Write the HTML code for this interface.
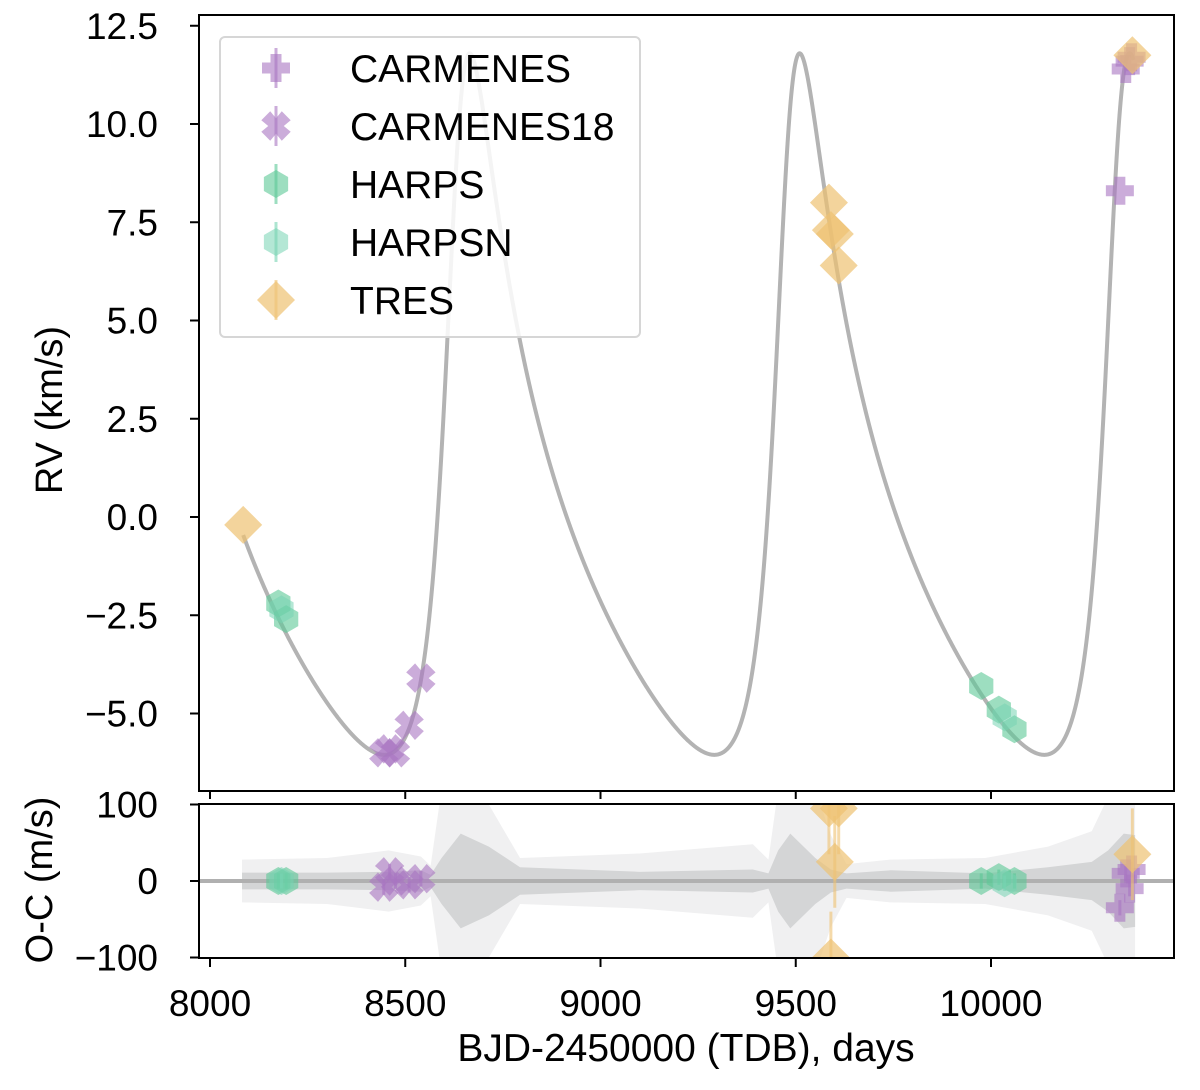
<!DOCTYPE html>
<html><head><meta charset="utf-8">
<style>
html,body{margin:0;padding:0;background:#fff;}
svg{display:block;font-family:"Liberation Sans",Arial,sans-serif;}
</style></head>
<body>
<svg id="chart" width="1200" height="1090" viewBox="0 0 1200 1090" xmlns="http://www.w3.org/2000/svg">
<defs>
<clipPath id="clipMain"><rect x="199" y="15" width="975" height="776"/></clipPath>
<clipPath id="clipRes"><rect x="199" y="804" width="975" height="154"/></clipPath>
</defs>
<g id="mainPanel"></g>
<g id="resPanel"></g>
</svg>
<script>
// ---- data ----
const orbitPeriod = [845];
const orbitEcc = [0.50];
const orbitOmegaDeg = [-47];
const orbitK = [8.925];
const orbitGamma = [-0.17];
const orbitPeakDate = [9510];
const modelRange = [8085, 10365];

const xTicks = [8000, 8500, 9000, 9500, 10000];
const xTickLabels = ["8000", "8500", "9000", "9500", "10000"];
const yTicks = [12.5, 10.0, 7.5, 5.0, 2.5, 0.0, -2.5, -5.0];
const yTickLabels = ["12.5", "10.0", "7.5", "5.0", "2.5", "0.0", "\u22122.5", "\u22125.0"];
const resTicks = [100, 0, -100];
const resTickLabels = ["100", "0", "\u2212100"];

const carmDates = [10330, 10345, 10355, 10360];
const carmRV = [8.3, 11.4, 11.6, 11.7];
const carmRes = [-35, 10, -10, 15];
const carm18Dates = [8445, 8460, 8475, 8510, 8540];
const carm18RV = [-6.0, -5.9, -6.0, -5.3, -4.1];
const carm18Res = [-8, 12, 0, -5, 3];
const harpsDates = [8175, 8195, 9975, 10020, 10060];
const harpsRV = [-2.2, -2.6, -4.3, -4.9, -5.4];
const harpsRes = [0, 0, 0, 5, 0];
const harpsnDates = [8183, 10035];
const harpsnRV = [-2.35, -5.1];
const harpsnRes = [0, -3];
const tresDates = [8085, 9585, 9590, 9600, 9610, 10362];
const tresRV = [-0.2, 8.0, 7.3, 7.2, 6.4, 11.75];
const tresRes = [-200, 95, -100, 25, 95, 35];

const bandDates = [8082, 8300, 8457, 8540, 8565, 8593, 8642, 8714, 8794, 9100, 9390, 9430, 9455, 9486, 9550, 9590, 9630, 9743, 9985, 10146, 10258, 10300, 10340, 10369];
const bandOuter = [28, 30, 40, 32, 20, 120, 140, 100, 30, 36, 48, 28, 120, 140, 120, 60, 22, 28, 30, 45, 65, 110, 140, 140];
const bandInner = [11, 11, 12, 14, 8, 30, 62, 45, 18, 12, 15, 10, 40, 62, 30, 15, 10, 14, 10, 18, 25, 40, 62, 60];

// ---- axes ----
const X0 = 210, XPX = 0.3905;
const xs = d => X0 + (d - 8000) * XPX;
const ys = v => 517 - 39.3 * v;
const yr = r => 881 - 0.765 * r;
const NS = "http://www.w3.org/2000/svg";
function mk(tag, parent, attrs) {
  const e = document.createElementNS(NS, tag);
  for (const k in attrs) e.setAttribute(k, attrs[k]);
  parent.appendChild(e);
  return e;
}
const main = document.getElementById('mainPanel');
const res = document.getElementById('resPanel');

function keplerRV(t) {
  const P = orbitPeriod[0], e = orbitEcc[0], w = orbitOmegaDeg[0] * Math.PI / 180;
  const nuP = -w;
  const Ep = 2 * Math.atan(Math.sqrt((1 - e) / (1 + e)) * Math.tan(nuP / 2));
  const Mp = Ep - e * Math.sin(Ep);
  const Tp = orbitPeakDate[0] - Mp / (2 * Math.PI) * P;
  let M = 2 * Math.PI * (t - Tp) / P;
  M = ((M % (2 * Math.PI)) + 3 * Math.PI) % (2 * Math.PI) - Math.PI;
  let E = M;
  for (let i = 0; i < 60; i++) E = E - (E - e * Math.sin(E) - M) / (1 - e * Math.cos(E));
  const nu = 2 * Math.atan2(Math.sqrt(1 + e) * Math.sin(E / 2), Math.sqrt(1 - e) * Math.cos(E / 2));
  return orbitK[0] * (Math.cos(nu + w) + e * Math.cos(w)) + orbitGamma[0];
}

// ---- main panel ----
const frame = mk('rect', main, {x:199, y:15, width:975, height:776, fill:'none', stroke:'#000', 'stroke-width':2});


xTicks.forEach((t, i) => {
  const l = mk('line', main, {x1:xs(t), x2:xs(t), y1:791, y2:799, stroke:'#000', 'stroke-width':2});
  
  
});
yTicks.forEach((t, i) => {
  const l = mk('line', main, {x1:190, x2:199, y1:ys(t), y2:ys(t), stroke:'#000', 'stroke-width':2});
  
  
  const tx = mk('text', main, {x:158, y:ys(t) + 13, 'text-anchor':'end', 'font-size':37});
  tx.textContent = yTickLabels[i];
  
  
});
const yl = mk('text', main, {x:62, y:410, 'text-anchor':'middle', 'font-size':38, transform:'rotate(-90 62 410)'});
yl.textContent = 'RV (km/s)';



const mg = mk('g', main, {'clip-path':'url(#clipMain)'});
let dStr = '';
for (let t = modelRange[0]; t <= modelRange[1]; t += 1) {
  dStr += (dStr ? 'L' : 'M') + xs(t).toFixed(2) + ',' + ys(keplerRV(t)).toFixed(2);
}
const curve = mk('path', mg, {d:dStr, fill:'none', stroke:'#b3b3b3', 'stroke-width':4});



function markerPath(type, cx, cy) {
  if (type === 'plus') {
    const a = 14, b = 5.5;
    return `M${cx-b},${cy-a}H${cx+b}V${cy-b}H${cx+a}V${cy+b}H${cx+b}V${cy+a}H${cx-b}V${cy+b}H${cx-a}V${cy-b}H${cx-b}Z`;
  }
  if (type === 'x') {
    const s = 14, b = 5.5;
    const base = [[-b,-s],[0,-s+b*1.2],[b,-s],[s,-b],[s-b*1.2,0],[s,b],[b,s],[0,s-b*1.2],[-b,s],[-s,b],[-s+b*1.2,0],[-s,-b]];
    return 'M' + base.map(p => (cx+p[0]*1.05) + ',' + (cy+p[1]*1.05)).join('L') + 'Z';
  }
  if (type === 'hex') {
    const r = 14; let p = '';
    for (let i = 0; i < 6; i++) { const a = Math.PI / 3 * i + Math.PI / 6; p += (i ? 'L' : 'M') + (cx + r * Math.cos(a)) + ',' + (cy + r * Math.sin(a)); }
    return p + 'Z';
  }
  const r = 19;
  return `M${cx},${cy-r}L${cx+r},${cy}L${cx},${cy+r}L${cx-r},${cy}Z`;
}
const series = [
  {name:'CARMENES', type:'plus', color:'#a975c2', dates:carmDates, rv:carmRV, res:carmRes, op:0.6},
  {name:'CARMENES18', type:'x', color:'#a975c2', dates:carm18Dates, rv:carm18RV, res:carm18Res, op:0.6},
  {name:'HARPS', type:'hex', color:'#5cc896', dates:harpsDates, rv:harpsRV, res:harpsRes, op:0.6},
  {name:'HARPSN', type:'hex', color:'#77d3b2', dates:harpsnDates, rv:harpsnRV, res:harpsnRes, op:0.55},
  {name:'TRES', type:'dia', color:'#eec272', dates:tresDates, rv:tresRV, res:tresRes, op:0.7}
];
series.forEach(s => {
  s.dates.forEach((d, i) => {
    const cx = xs(d), cy = ys(s.rv[i]);
    const m = mk('path', mg, {d:markerPath(s.type, cx, cy), fill:s.color, 'fill-opacity':s.op});
    
    
  });
});

const lg = mk('g', main, {});


mk('rect', lg, {x:220, y:37, width:420, height:300, rx:5, fill:'#fff', 'fill-opacity':0.85, stroke:'#d6d6d6', 'stroke-width':2});
series.forEach((s, i) => {
  const cy = 68 + i * 58;
  const g = mk('g', lg, {});
  
  
  mk('line', g, {x1:276, x2:276, y1:cy-20, y2:cy+20, stroke:s.color, 'stroke-opacity':0.6, 'stroke-width':3});
  mk('path', g, {d:markerPath(s.type, 276, cy), fill:s.color, 'fill-opacity':s.op});
  const t = mk('text', g, {x:350, y:cy + 14, 'font-size':39});
  t.textContent = s.name;
});

// ---- residual panel ----
const rg = mk('g', res, {'clip-path':'url(#clipRes)'});
function bandPath(arr) {
  let top = '', bot = '';
  bandDates.forEach((d, i) => { top += (i ? 'L' : 'M') + xs(d) + ',' + yr(arr[i]); });
  for (let i = bandDates.length - 1; i >= 0; i--) bot += 'L' + xs(bandDates[i]) + ',' + yr(-arr[i]);
  return top + bot + 'Z';
}
const bo = mk('path', rg, {d:bandPath(bandOuter), fill:'#f0f0f1'});


const bi = mk('path', rg, {d:bandPath(bandInner), fill:'#d4d5d6'});


const zl = mk('line', rg, {x1:199, x2:1174, y1:yr(0), y2:yr(0), stroke:'#b0b0b0', 'stroke-width':4});


series.forEach(s => {
  s.dates.forEach((d, i) => {
    const cx = xs(d), cy = yr(s.res[i]);
    const err = s.type === 'dia' ? 60 : 10;
    mk('line', rg, {x1:cx, x2:cx, y1:yr(s.res[i] + err), y2:yr(s.res[i] - err), stroke:s.color, 'stroke-opacity':0.6, 'stroke-width':3});
    const m = mk('path', rg, {d:markerPath(s.type, cx, cy), fill:s.color, 'fill-opacity':s.op});
    
    
  });
});
const rf = mk('rect', res, {x:199, y:804, width:975, height:154, fill:'none', stroke:'#000', 'stroke-width':2});


xTicks.forEach((t, i) => {
  const l = mk('line', res, {x1:xs(t), x2:xs(t), y1:958, y2:967, stroke:'#000', 'stroke-width':2});
  
  
  const tx = mk('text', res, {x:xs(t), y:1016, 'text-anchor':'middle', 'font-size':37});
  tx.textContent = xTickLabels[i];
  
  
});
resTicks.forEach((t, i) => {
  const l = mk('line', res, {x1:190, x2:199, y1:yr(t), y2:yr(t), stroke:'#000', 'stroke-width':2});
  
  
  const tx = mk('text', res, {x:158, y:yr(t) + 13, 'text-anchor':'end', 'font-size':37});
  tx.textContent = resTickLabels[i];
  
  
});
const ryl = mk('text', res, {x:52, y:880, 'text-anchor':'middle', 'font-size':38, transform:'rotate(-90 52 880)'});
ryl.textContent = 'O-C (m/s)';


const xl = mk('text', res, {x:686, y:1061, 'text-anchor':'middle', 'font-size':39});
xl.textContent = 'BJD-2450000 (TDB), days';


</script>
</body></html>
